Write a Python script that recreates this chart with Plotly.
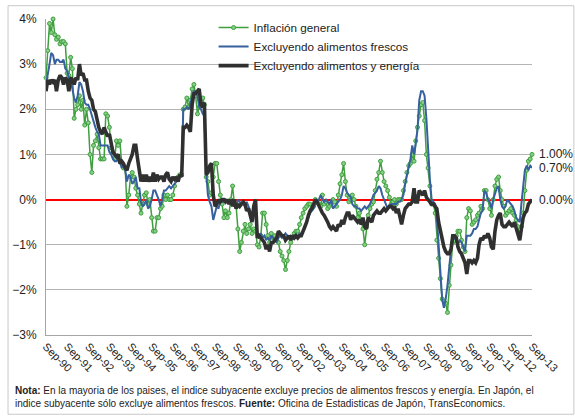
import pandas as pd
import plotly.graph_objects as go

# Monthly YoY CPI (%), Sep-1990 .. Sep-2013
headline = [
    2.7, 3.3, 3.9, 3.7, 4.0, 3.65, 3.55, 3.6, 3.45, 3.5, 3.5, 3.45,
    2.8, 2.75, 3.15, 2.9, 1.8, 2.0, 2.1, 2.3, 2.0, 2.2, 1.65, 2.0,
    1.7, 1.0, 0.6, 1.2, 1.3, 1.45, 1.15, 0.9, 0.9, 0.9, 1.9, 1.85,
    1.6, 1.15, 1.05, 0.9, 1.3, 1.2, 1.3, 0.8, 0.7, 0.7, -0.15, 0.1,
    0.5, 0.6, 0.5, 0.25, 0.1, -0.1, -0.3, -0.1, 0.1, 0.15, -0.1, 0.0,
    -0.4, -0.7, -0.7, -0.4, -0.4, -0.2, -0.15, 0.1, 0.0, 0.1, 0.0, 0.0,
    0.1, 0.3, 0.45, 0.5, 0.55, 0.55, 2.0, 2.05, 2.25, 2.05, 2.2, 2.45,
    2.55, 2.3, 1.9, 2.05, 2.2, 2.25, 2.1, 0.5, 0.4, 0.1, 0.15, 0.5,
    0.8, 0.8, 0.4, 0.1, -0.1, -0.4, -0.25, -0.4, -0.3, 0.0, 0.3, -0.1,
    -0.15, -0.65, -1.15, -0.95, -0.7, -0.55, -0.75, -0.65, -0.55, -0.75, -0.65, -0.7,
    -1.0, -1.05, -0.8, -0.3, -0.3, -0.55, -0.8, -0.95, -0.75, -0.85, -0.8, -0.9,
    -0.95, -1.15, -1.25, -1.35, -1.55, -1.35, -1.15, -0.95, -0.85, -0.75, -0.7, -0.7,
    -0.55, -0.4, -0.3, -0.2, -0.15, -0.1, -0.1, -0.2, -0.15, 0.0, -0.05, -0.1,
    -0.15, 0.1, -0.1, -0.05, -0.2, -0.15, -0.1, 0.0, -0.05, -0.15, 0.1, 0.35,
    0.55, 0.8, 0.4, 0.1, -0.05, 0.0, 0.1, 0.0, -0.15, -0.4, -0.3, -0.5,
    -0.65, -1.0, -0.6, -0.35, -0.2, -0.1, -0.05, 0.2, 0.45, 0.6, 0.85, 0.6,
    0.4, 0.3, 0.2, 0.05, -0.1, -0.05, 0.0, -0.1, 0.0, 0.0, 0.0, 0.2,
    0.4, 0.6, 0.75, 0.8, 1.0, 0.85, 1.3, 1.6, 1.85, 2.1, 2.15, 1.75,
    1.0, 0.7, 0.3, -0.1, -0.1, -0.3, -0.9, -1.3, -1.75, -2.2, -2.25, -2.3,
    -2.5, -1.9, -1.45, -0.95, -0.9, -0.8, -0.7, -0.7, -0.9, -1.05, -1.15, -0.4,
    -0.2, -0.25, -0.55, -0.5, -0.45, -0.35, -0.3, -0.15, -0.2, 0.2, 0.2, 0.0,
    -0.2, -0.35, 0.0, 0.3, 0.45, 0.5, 0.2, 0.0, -0.15, -0.35, -0.3, -0.25,
    -0.2, -0.3, -0.35, -0.45, -0.6, -0.8, -0.6, -0.3, 0.2, 0.65, 0.85, 0.9,
    1.0,
]

ex_fresh = [
    2.55, 2.75, 3.0, 3.25, 3.2, 3.0, 3.1, 3.1, 3.05, 3.05, 3.1, 2.9,
    2.85, 2.7, 2.65, 2.45, 2.25, 2.15, 2.3, 2.6, 2.55, 2.4, 2.15, 2.1,
    2.1, 2.0, 1.85, 1.7, 1.6, 1.5, 1.45, 1.2, 1.2, 1.2, 1.2, 1.2,
    1.05, 1.0, 0.9, 0.85, 0.85, 0.9, 0.85, 0.7, 0.8, 0.65, 0.4, 0.55,
    0.5, 0.35, 0.4, 0.5, 0.25, 0.25, -0.05, -0.15, -0.1, 0.0, -0.2, -0.15,
    0.0, 0.2, 0.2, 0.1, 0.0, -0.15, 0.05, 0.2, 0.2, 0.25, 0.3, 0.25,
    0.3, 0.35, 0.4, 0.5, 0.5, 0.55, 2.0, 2.0, 2.05, 2.0, 2.1, 2.3,
    2.4, 2.4, 2.3, 2.05, 2.0, 1.9, 1.85, 0.6, 0.1, -0.05, -0.15, -0.45,
    -0.3, -0.15, -0.2, 0.0, -0.05, -0.05, 0.0, -0.05, -0.05, -0.1, -0.05, -0.15,
    -0.2, 0.0, -0.05, -0.1, -0.1, -0.15, -0.05, -0.15, -0.25, -0.3, -0.2, -0.4,
    -0.75, -0.8, -0.75, -0.85, -0.8, -0.9, -0.85, -0.9, -0.8, -0.85, -0.9, -0.95,
    -0.85, -0.8, -0.85, -0.8, -0.75, -0.8, -0.85, -0.8, -0.85, -0.8, -0.85, -0.8,
    -0.75, -0.75, -0.7, -0.65, -0.5, -0.4, -0.3, -0.25, -0.2, -0.1, -0.05, 0.0,
    0.1, 0.0, -0.05, 0.0, -0.05, -0.1, 0.0, -0.2, -0.15, -0.1, -0.05, 0.0,
    0.1, 0.3, 0.25, 0.15, 0.1, 0.05, -0.1, -0.15, -0.15, -0.2, -0.2, -0.25,
    -0.2, -0.15, -0.2, -0.15, -0.1, 0.0, 0.1, 0.15, 0.2, 0.3, 0.25, 0.1,
    0.0, -0.1, -0.2, -0.15, -0.1, -0.1, -0.1, -0.1, -0.05, -0.05, 0.0, 0.1,
    0.35, 0.55, 0.7, 0.9, 1.2, 1.0, 1.25, 1.55, 2.2, 2.4, 2.4, 2.3,
    1.8, 1.0, 0.45, 0.0, -0.05, -0.1, -0.4, -1.1, -1.7, -2.2, -2.4, -2.2,
    -1.9, -1.45, -1.1, -0.9, -0.85, -0.9, -1.0, -0.9, -0.95, -1.05, -1.15, -0.8,
    -0.8, -0.8, -0.75, -0.65, -0.65, -0.6, -0.45, -0.3, -0.25, 0.2, 0.15, 0.0,
    -0.05, -0.2, 0.0, 0.15, 0.25, 0.3, 0.0, -0.15, -0.2, -0.15, 0.0, -0.05,
    -0.1, -0.15, -0.25, -0.4, -0.45, -0.5, -0.1, 0.3, 0.65, 0.75, 0.65, 0.75,
    0.7,
]

ex_food_energy = [
    2.4, 2.65, 2.55, 2.65, 2.6, 2.65, 2.4, 2.65, 2.75, 2.7, 2.55, 2.7,
    2.65, 2.4, 2.7, 2.65, 2.55, 2.7, 2.65, 3.0, 2.75, 2.8, 2.65, 2.65,
    2.4, 2.25, 2.2, 2.0, 1.95, 1.75, 1.6, 1.5, 1.45, 1.6, 1.5, 1.4,
    1.45, 1.2, 1.05, 1.0, 0.95, 1.0, 0.8, 0.85, 0.8, 0.7, 0.65, 0.8,
    0.9, 1.0, 1.2, 1.2, 0.9, 0.65, 0.4, 0.55, 0.4, 0.55, 0.4, 0.5,
    0.4, 0.6, 0.4, 0.55, 0.45, 0.5, 0.5, 0.4, 0.55, 0.6, 0.45, 0.4,
    0.5, 0.45, 0.5, 0.4, 0.55, 0.5, 1.6, 1.6, 1.65, 1.6, 1.5, 2.1,
    2.35, 2.35, 2.4, 2.45, 2.1, 2.05, 2.15, 0.55, 0.6, 0.75, 0.8, 0.1,
    -0.15, -0.1, 0.0, -0.05, 0.0, 0.0, -0.05, 0.0, -0.1, 0.0, -0.15, 0.0,
    -0.2, -0.1, -0.15, -0.1, -0.05, -0.1, -0.25, -0.2, -0.35, -0.5, -0.15, 0.0,
    -0.85, -0.8, -0.85, -0.9, -0.95, -1.1, -1.0, -1.15, -0.95, -0.95, -0.9, -0.85,
    -0.7, -0.75, -0.8, -0.8, -0.9, -0.85, -0.8, -0.9, -0.8, -0.85, -0.8, -0.85,
    -0.8, -0.8, -0.7, -0.65, -0.5, -0.35, -0.25, -0.2, -0.1, 0.0, -0.05, -0.15,
    -0.25, -0.3, -0.35, -0.45, -0.5, -0.6, -0.65, -0.6, -0.65, -0.7, -0.55, -0.6,
    -0.45, -0.55, -0.4, -0.3, -0.3, -0.45, -0.35, -0.4, -0.45, -0.5, -0.45, -0.55,
    -0.4, -0.6, -0.65, -0.4, -0.45, -0.5, -0.35, -0.3, -0.25, -0.3, -0.3, -0.25,
    -0.2, -0.25, -0.2, -0.15, -0.15, -0.2, -0.15, -0.3, -0.2, -0.4, -0.55, -0.35,
    -0.2, -0.15, -0.1, -0.1, -0.05, 0.25, -0.05, -0.05, 0.2, 0.15, 0.1, 0.2,
    0.05, 0.0, -0.05, -0.1, -0.1, -0.15, -0.2, -0.5, -0.7, -0.9, -1.05, -1.15,
    -1.2, -1.2, -1.1, -0.8, -0.8, -0.85, -1.05, -1.15, -1.2, -1.3, -1.4, -1.65,
    -1.35, -1.35, -1.4, -1.35, -1.4, -1.3, -1.0, -0.85, -0.9, -0.8, -0.85, -0.75,
    -0.85, -1.05, -1.1, -0.7, -0.45, -0.35, -0.3, -0.55, -0.6, -0.6, -0.55, -0.5,
    -0.55, -0.6, -0.5, -0.65, -0.8, -0.9, -0.65, -0.4, -0.3, -0.25, -0.1, -0.05,
    0.0,
]

dates = pd.date_range("1990-09-01", periods=len(headline), freq="MS")

series_names = ["Inflación general", "Excluyendo alimentos frescos", "Excluyendo alimentos y energía"]
end_labels = ["1.00%", "0.70%", "0.00%"]
end_values = [1.0, 0.7, 0.0]

FONT = "Arial, Liberation Sans, sans-serif"
TXT = "#222222"

W, H = 575, 416
ML, MR, MT, MB = 39, 43, 14, 81
PW, PH = W - ML - MR, H - MT - MB

def px_x(p):
    return (p - ML) / PW

def px_y(p):
    return (H - MB - p) / PH

fig = go.Figure()
fig.add_trace(go.Scatter(
    x=dates, y=headline, name=series_names[0], mode="lines+markers",
    line=dict(color="#3f9f3f", width=1.5),
    marker=dict(size=4, color="#86d086", line=dict(color="#3f9f3f", width=1)),
    cliponaxis=False,
))
fig.add_trace(go.Scatter(
    x=dates, y=ex_fresh, name=series_names[1], mode="lines",
    line=dict(color="#37619e", width=2), cliponaxis=False,
))
fig.add_trace(go.Scatter(
    x=dates, y=ex_food_energy, name=series_names[2], mode="lines",
    line=dict(color="#303030", width=3.6), cliponaxis=False,
))

shapes = [
    # white legend backdrop hiding gridlines
    dict(type="rect", xref="paper", yref="paper", x0=px_x(201), x1=px_x(453),
         y0=px_y(74), y1=px_y(17), fillcolor="white", line=dict(width=0), layer="between"),
    # outer border
    dict(type="rect", xref="paper", yref="paper", x0=px_x(0.5), x1=px_x(W - 0.5),
         y0=px_y(H - 0.5), y1=px_y(0.5), line=dict(color="#c8c8c8", width=1),
         fillcolor="rgba(0,0,0,0)", layer="above"),
]

annotations = []
for lab, v in zip(end_labels, end_values):
    annotations.append(dict(xref="paper", yref="y", x=1, y=v, text=lab, showarrow=False,
                            xanchor="left", yanchor="middle", xshift=5,
                            font=dict(family=FONT, size=12, color=TXT)))

note1 = ("<b>Nota:</b> En la mayoria de los paises, el indice subyacente excluye precios de "
         "alimentos frescos y energía. En Japón, el")
note2 = ("indice subyacente sólo excluye alimentos frescos. <b>Fuente:</b> Oficina de "
         "Estadisticas de Japón, TransEconomics.")
for txt, yp in [(note1, 391), (note2, 405)]:
    annotations.append(dict(xref="paper", yref="paper", x=px_x(6), y=px_y(yp), text=txt,
                            showarrow=False, xanchor="left", yanchor="middle",
                            font=dict(family=FONT, size=10, color=TXT)))

fig.update_layout(
    width=W, height=H,
    margin=dict(l=ML, r=MR, t=MT, b=MB),
    paper_bgcolor="white", plot_bgcolor="white",
    font=dict(family=FONT, size=12, color=TXT),
    showlegend=True,
    legend=dict(x=px_x(209), y=px_y(8), xanchor="left", yanchor="top",
                bgcolor="rgba(0,0,0,0)", borderwidth=0,
                font=dict(family=FONT, size=11.7, color=TXT),
                itemwidth=30, tracegroupgap=0),
    shapes=shapes,
    annotations=annotations,
)
fig.update_xaxes(
    type="date", range=["1990-09-01", "2013-09-01"],
    tick0="1990-09-01", dtick="M12", tickformat="%b-%y", tickangle=45,
    tickfont=dict(family=FONT, size=11, color=TXT),
    showgrid=False, showline=True, linecolor="#a6a6a6", linewidth=1,
    ticks="", zeroline=False,
)
fig.update_yaxes(
    range=[-3, 4], dtick=1, ticksuffix="%",
    tickfont=dict(family=FONT, size=12, color=TXT),
    showgrid=True, gridcolor="#b4b4b4", gridwidth=1,
    showline=True, linecolor="#a6a6a6", linewidth=1,
    ticks="", zeroline=True, zerolinecolor="#ff0000", zerolinewidth=2,
    ticklabelstandoff=6,
)

fig.write_html("out.html")
